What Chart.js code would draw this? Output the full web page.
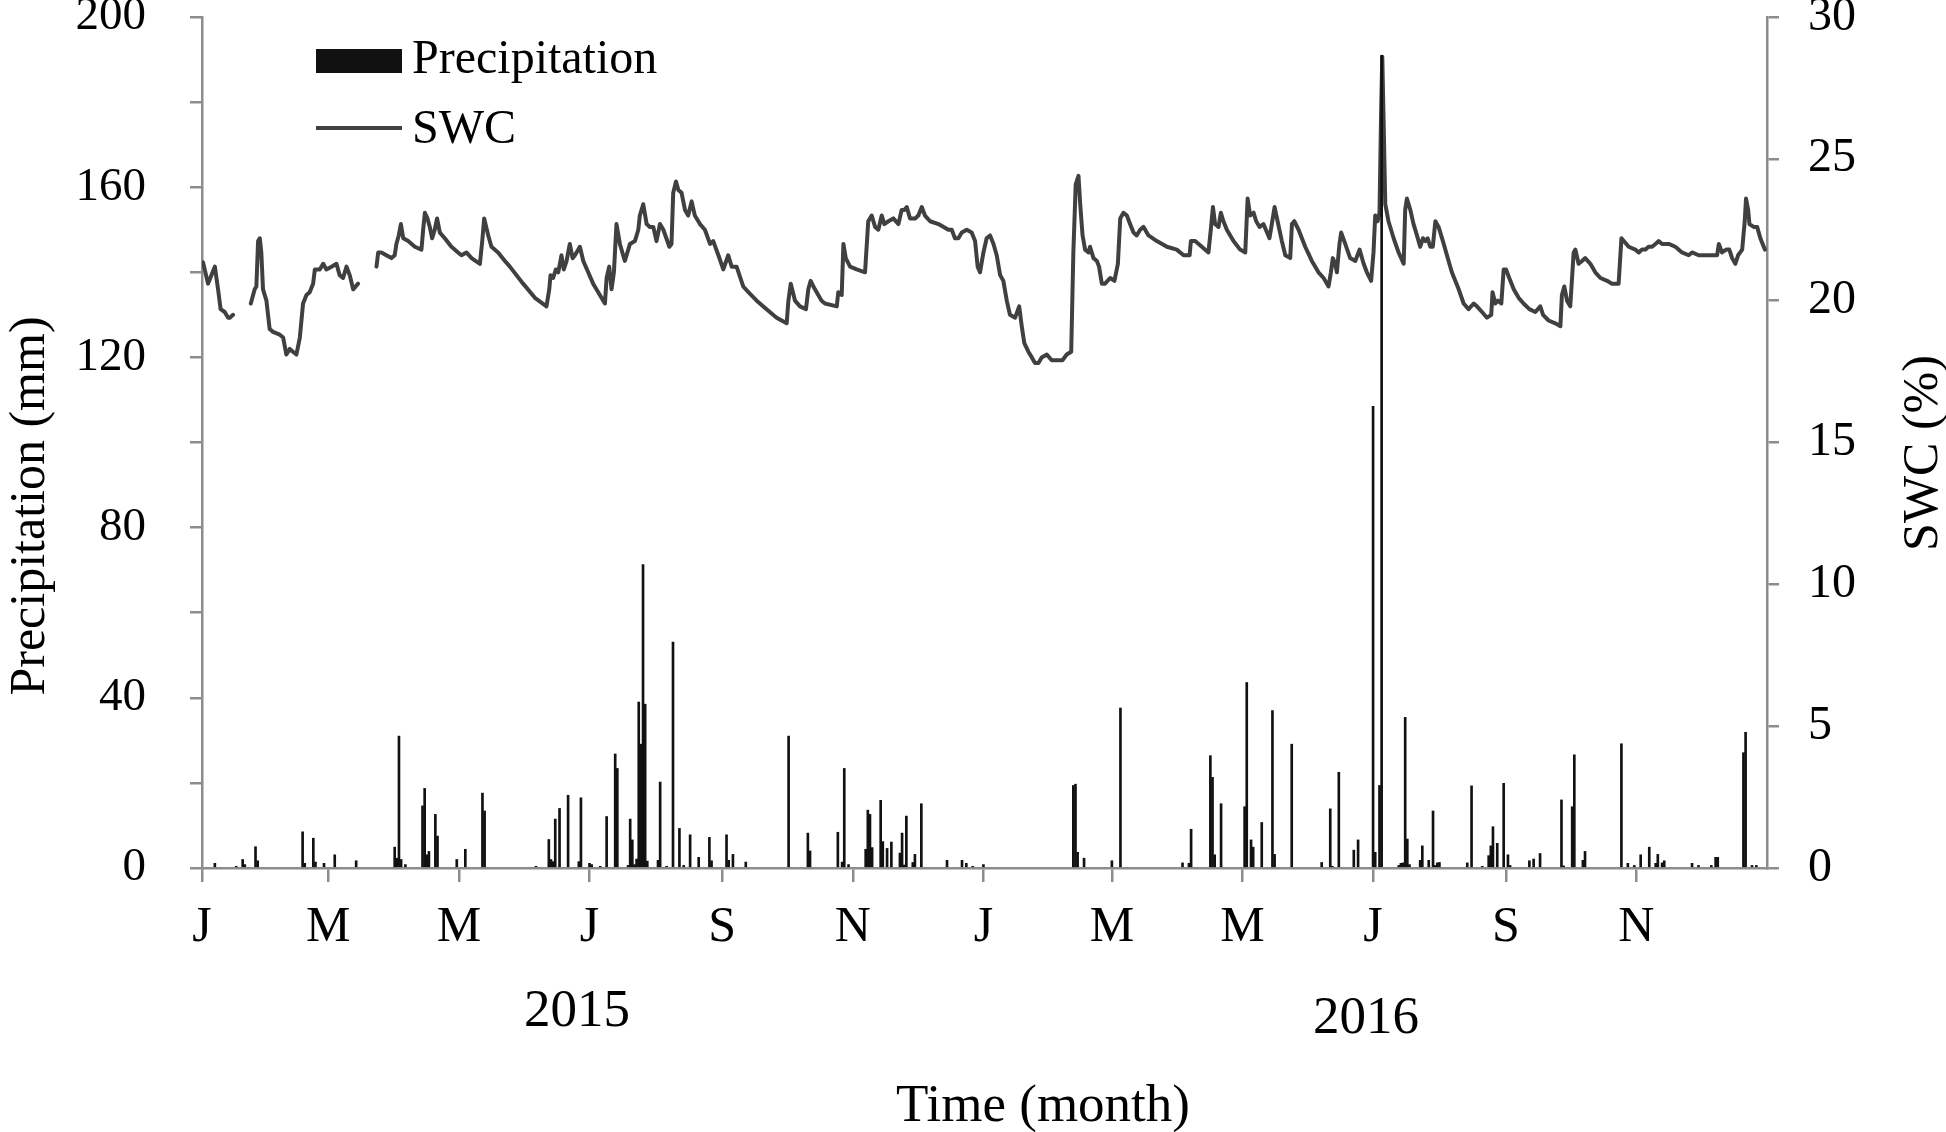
<!DOCTYPE html>
<html><head><meta charset="utf-8">
<script src="https://cdn.jsdelivr.net/npm/chart.js@4.4.1/dist/chart.umd.min.js"></script>
<style>html,body{margin:0;padding:0;background:#fff;}#wrap{width:1946px;height:1132px;}</style>
</head><body><div id="wrap"><canvas id="c" width="1946" height="1132"></canvas></div>
<script>
// x axis: day index from 1 Jan 2015
const monthTickDays = [0,59,120,181,243,304,365,425,486,547,609,670];
const monthTickLabels = ['J','M','M','J','S','N','J','M','M','J','S','N'];
const yearLabels = ['2015','2016'];
const seriesNames = ['Precipitation','SWC'];
const axisTitles = ['Precipitation (mm)','SWC (%)','Time (month)'];

const precipDays = [6,16,19,20,25,26,47,48,52,53,57,62,72,90,91,92,93,95,103,104,105,106,109,110,119,123,131,132,
156,162,163,164,165,167,171,176,177,181,182,186,189,193,194,199,200,201,202,203,204,205,206,207,208,213,214,217,220,223,225,228,232,237,238,245,246,248,254,274,283,284,
297,299,300,302,310,311,312,313,317,318,320,322,326,327,328,329,332,333,336,348,355,357,360,365,
407,408,409,412,425,429,458,461,462,471,472,473,476,487,488,490,491,495,500,501,509,523,527,528,531,538,540,547,548,550,551,559,560,561,562,563,564,569,570,573,575,576,577,578,
591,593,598,601,602,603,605,608,610,611,620,622,625,635,636,640,641,645,646,663,666,669,672,676,679,680,682,683,696,699,705,707,708,720,721,724,726];
const precipMm = [1.1,0.4,2.0,0.8,5.0,1.7,8.5,1.1,7.0,1.4,1.1,3.1,1.7,4.9,2.3,31.0,2.0,0.8,14.6,18.7,3.1,3.9,12.6,7.5,2.0,4.4,17.6,13.4,
0.4,6.7,2.0,1.5,11.5,14.0,17.1,1.5,16.5,1.1,0.8,0.4,12.1,26.8,23.4,0.6,11.5,6.6,0.8,2.1,39.0,29.1,71.3,38.5,1.6,1.8,20.2,0.4,53.1,9.3,0.6,7.8,2.5,7.2,1.7,7.8,1.8,3.2,1.4,31.0,8.2,4.0,
8.4,1.4,23.4,0.8,4.4,13.6,12.6,4.8,15.9,6.2,4.6,6.1,3.5,8.2,0.7,12.2,1.3,3.2,15.1,1.8,1.8,1.1,0.4,0.8,
19.4,19.7,3.7,2.3,1.7,37.6,1.2,1.1,9.1,26.4,21.3,3.1,15.1,14.4,43.6,6.6,4.9,10.7,37.0,3.2,29.1,1.3,13.9,0.4,22.5,4.2,6.6,108.5,3.7,19.4,191.0,0.6,1.1,1.2,35.4,6.8,0.8,1.8,5.2,1.8,13.4,0.6,1.2,1.3,
1.2,19.3,0.4,2.9,5.2,9.7,5.8,19.9,3.1,0.6,1.7,2.1,3.4,16.0,0.5,14.4,26.6,1.8,3.9,29.2,1.1,0.6,3.1,4.9,1.1,3.2,1.2,1.7,1.1,0.6,0.6,2.5,2.5,27.1,31.9,0.6,0.6];

// SWC readings (null = logger gap)
const swcDays = [0.5,2.8,4.4,6.0,7.5,8.7,10.6,12.2,13.0,14.5,
18.5,
22.8,24.6,25.4,26.2,27.0,27.7,28.5,30.1,31.6,33.2,36.3,37.9,39.4,41.0,42.5,44.1,45.7,47.2,48.8,50.3,51.9,52.7,55.0,56.6,58.1,60.5,62.8,64.3,65.9,67.5,69.0,70.6,72.9,
77,
81.5,82.3,83.8,86.1,88.5,90.0,90.8,91.9,92.9,94.0,96.3,99.4,102.5,103.3,104.1,105.3,106.4,107.5,108.7,109.8,111.1,113.4,116.5,119.6,121.2,123.5,125.9,129.8,130.9,131.8,133.7,135.2,138.3,141.5,
143.8,150.0,155.5,160.9,162.2,162.8,164.0,165.3,166.4,167.9,169.0,170.3,171.8,173.1,174.2,176.5,178.1,182.7,188.2,189.0,190.2,191.3,192.4,193.6,195.2,197.5,199.9,202.2,203.8,204.5,206.1,207.7,209.2,210.8,212.3,213.9,215.5,218.3,219.3,220.1,221.4,222.5,224.0,225.6,227.1,228.7,230.2,232.6,234.9,237.3,238.8,241.2,243.5,245.8,247.4,249.7,252.8,255.2,259.1,263.7,268.4,273.1,273.9,275.0,277.0,279.3,282.1,283.2,284.3,286.3,289.4,
291.0,296.5,297.2,298.8,299.6,300.7,302.7,305.8,309.7,311.2,312.8,314.4,315.9,317.5,318.7,320.6,322.9,325.3,326.8,328.1,329.2,330.7,333.1,334.6,336.2,337.7,340.1,344.0,348.6,350.2,351.7,353.3,354.9,357.2,359.5,361.1,362.3,363.4,365.0,366.5,368.1,369.7,371.2,372.8,374.3,375.9,377.4,379.8,381.7,382.9,384.1,386.0,387.6,389.1,390.7,392.2,394.6,396.9,399.3,401.9,403.9,406.0,407.0,408.1,409.4,410.2,411.3,412.5,414.1,414.8,416.4,418.0,419.0,420.3,421.8,424.2,426.2,427.8,428.9,430.4,432.0,433.5,435.1,436.6,
438.2,439.8,442.1,446.0,450.7,455.3,458.5,461.3,461.9,463.9,467.0,470.1,471.2,472.2,473.2,474.8,475.9,477.1,478.7,481.8,484.9,487.3,488.4,489.6,491.2,492.4,494.0,495.8,498.6,499.7,501.0,502.4,504.4,506.0,508.3,509.1,510.2,512.2,515.3,518.4,521.5,523.9,526.2,527.3,528.2,529.3,530.1,531.3,532.1,534.0,536.3,538.7,540.7,542.6,544.1,546.1,547.2,548.0,549.1,550.0,550.7,551.3,551.9,552.7,554.2,556.6,558.9,561.3,562.0,562.8,564.4,565.9,567.5,569.0,570.3,571.4,572.5,573.7,574.9,576.1,577.6,580.0,581.5,583.8,
585.4,587.0,589.3,591.6,594.0,595.5,597.9,600.2,602.2,602.8,604.1,605.3,606.9,608.0,609.1,610.6,612.7,615.0,617.3,620.0,622.8,625.1,626.4,629.0,632.1,634.5,635.2,636.3,637.6,639.1,640.7,641.5,643.0,644.6,646.1,648.5,650.8,653.2,656.3,658.6,661.7,663.0,664.1,666.4,669.5,671.1,672.6,674.2,675.7,677.3,678.9,680.4,682.0,685.1,688.2,691.3,694.4,696.0,699.1,703.8,707.7,708.5,710.0,711.9,713.4,714.7,716.2,717.5,719.4,720.6,721.2,722.2,722.8,724.8,726.4,727.9,730.0];
const swcPct = [21.35,20.6,20.9,21.2,20.4,19.7,19.6,19.4,19.4,19.5,
null,
19.9,20.4,20.5,22.1,22.2,21.7,20.4,20.0,19.0,18.9,18.8,18.7,18.1,18.3,18.2,18.1,18.7,19.9,20.2,20.3,20.6,21.1,21.1,21.3,21.1,21.2,21.3,20.9,20.8,21.2,20.9,20.4,20.6,
null,
21.2,21.7,21.7,21.6,21.5,21.6,22.0,22.3,22.7,22.2,22.1,21.9,21.8,22.5,23.1,22.9,22.6,22.2,22.5,22.9,22.4,22.2,21.9,21.7,21.6,21.7,21.5,21.3,22.1,22.9,22.3,21.9,21.7,21.4,
21.2,20.6,20.1,19.8,20.4,20.9,20.8,21.1,21.0,21.6,21.1,21.4,22.0,21.5,21.6,21.9,21.4,20.6,19.9,20.8,21.2,20.4,21.0,22.7,22.0,21.4,22.0,22.1,22.5,23.0,23.4,22.7,22.6,22.6,22.1,22.7,22.5,21.9,22.0,23.8,24.2,23.9,23.8,23.2,23.0,23.5,23.0,22.7,22.5,22.0,22.1,21.6,21.1,21.6,21.2,21.2,20.5,20.3,20.0,19.7,19.4,19.2,20.0,20.6,20.0,19.8,19.7,20.4,20.7,20.4,20.0,
19.9,19.8,20.3,20.2,22.0,21.5,21.2,21.1,21.0,22.8,23.0,22.6,22.5,23.0,22.7,22.8,22.9,22.7,23.2,23.2,23.3,22.9,22.9,23.0,23.3,23.0,22.8,22.7,22.5,22.5,22.2,22.2,22.4,22.5,22.4,22.1,21.2,21.0,21.7,22.2,22.3,22.0,21.6,20.9,20.7,20.0,19.5,19.4,19.8,19.1,18.5,18.2,18.0,17.8,17.8,18.0,18.1,17.9,17.9,17.9,18.1,18.2,21.7,24.1,24.4,23.4,22.3,21.8,21.7,21.9,21.5,21.4,21.2,20.6,20.6,20.8,20.7,21.3,22.9,23.1,23.0,22.7,22.4,22.3,
22.5,22.6,22.3,22.1,21.9,21.8,21.6,21.6,22.1,22.1,21.9,21.7,22.5,23.3,22.7,22.6,23.1,22.8,22.5,22.1,21.8,21.7,23.6,23.0,23.1,22.8,22.6,22.7,22.2,22.7,23.3,22.8,22.1,21.6,21.5,22.7,22.8,22.5,21.9,21.4,21.0,20.8,20.5,21.0,21.5,21.3,21.0,22.0,22.4,22.0,21.5,21.4,21.8,21.3,21.0,20.7,21.7,23.0,22.8,23.1,26.4,28.6,26.4,23.4,22.8,22.2,21.7,21.3,23.2,23.6,23.2,22.7,22.3,21.9,22.2,22.1,22.2,21.9,21.9,22.8,22.6,22.0,21.6,21.0,
20.7,20.4,19.9,19.7,19.9,19.8,19.6,19.4,19.5,20.3,19.9,20.0,19.9,21.1,21.1,20.8,20.4,20.1,19.9,19.7,19.6,19.8,19.5,19.3,19.2,19.1,20.2,20.5,20.0,19.8,21.7,21.8,21.3,21.4,21.5,21.3,21.0,20.8,20.7,20.6,20.6,22.2,22.1,21.9,21.8,21.7,21.8,21.8,21.9,21.9,22.0,22.1,22.0,22.0,21.9,21.7,21.6,21.7,21.6,21.6,21.6,22.0,21.7,21.8,21.8,21.5,21.3,21.6,21.8,22.8,23.6,23.2,22.7,22.6,22.6,22.2,21.8];

const FONT = "'Liberation Serif','Times New Roman',serif";
const AXIS_GRAY = '#8c8c8c';
const BAR_COLOR = '#111111';
const LINE_COLOR = '#404040';

const precipData = precipDays.map((d, i) => ({x: d, y: precipMm[i]}));
const swcData = swcDays.map((d, i) => ({x: d, y: swcPct[i]}));

const decorPlugin = {
  id: 'decor',
  afterDraw(chart) {
    const c = chart.ctx;
    c.save();
    // legend
    c.fillStyle = BAR_COLOR;
    c.fillRect(316, 49, 86, 24);
    c.strokeStyle = LINE_COLOR; c.lineWidth = 4;
    c.beginPath(); c.moveTo(316, 128); c.lineTo(402, 128); c.stroke();
    c.fillStyle = '#000';
    c.textAlign = 'left'; c.textBaseline = 'alphabetic';
    c.font = '48px ' + FONT;
    c.fillText(seriesNames[0], 412, 73);
    c.fillText(seriesNames[1], 412, 143);
    // year labels
    c.textAlign = 'center';
    c.font = '53px ' + FONT;
    c.fillText(yearLabels[0], 577, 1026);
    c.fillText(yearLabels[1], 1366, 1033);
    // x title
    c.fillText(axisTitles[2], 1043, 1121);
    // left title
    c.font = '50px ' + FONT;
    c.save(); c.translate(44, 506); c.rotate(-Math.PI / 2); c.fillText(axisTitles[0], 0, 0); c.restore();
    // right title
    c.save(); c.translate(1937, 453); c.rotate(-Math.PI / 2); c.fillText(axisTitles[1], 0, 0); c.restore();
    c.restore();
  }
};

new Chart(document.getElementById('c'), {
  type: 'bar',
  data: {
    datasets: [
      {type: 'bar', label: seriesNames[0], data: precipData, backgroundColor: BAR_COLOR, borderWidth: 0,
       barThickness: 2, yAxisID: 'y', order: 0},
      {type: 'line', label: seriesNames[1], data: swcData, borderColor: LINE_COLOR, borderWidth: 4,
       pointRadius: 0, tension: 0, spanGaps: false, fill: false, yAxisID: 'y1', order: 1,
       borderJoinStyle: 'round', borderCapStyle: 'round'}
    ]
  },
  options: {
    responsive: false, animation: false, indexAxis: 'x',
    layout: {padding: {top: 17, left: 0, right: 0, bottom: 0}},
    plugins: {legend: {display: false}, tooltip: {enabled: false}},
    scales: {
      x: {
        type: 'linear', min: 0, max: 731, offset: false, position: 'bottom',
        afterBuildTicks: s => { s.ticks = monthTickDays.map(v => ({value: v})); },
        afterFit: s => { s.height = 1132 - 868; s.paddingLeft = 0; s.paddingRight = 0; },
        ticks: {autoSkip: false, maxRotation: 0, minRotation: 0, color: '#000', padding: 16,
                font: {family: FONT, size: 50}, callback: (v, i) => monthTickLabels[i]},
        grid: {drawOnChartArea: false, drawTicks: true, tickLength: 14, color: AXIS_GRAY, lineWidth: 2.5, offset: false},
        border: {display: true, color: AXIS_GRAY, width: 2.5}
      },
      y: {
        position: 'left', min: 0, max: 200,
        afterFit: s => { s.width = 202; s.paddingTop = 0; s.paddingBottom = 0; },
        ticks: {stepSize: 20, color: '#000', padding: 44, font: {family: FONT, size: 47},
                callback: v => (v % 40 === 0 ? String(v) : '')},
        grid: {drawOnChartArea: false, drawTicks: true, tickLength: 12, color: AXIS_GRAY, lineWidth: 2.5},
        border: {display: true, color: AXIS_GRAY, width: 2.5}
      },
      y1: {
        position: 'right', min: 0, max: 30,
        afterFit: s => { s.width = 1946 - 1767; s.paddingTop = 0; s.paddingBottom = 0; },
        ticks: {stepSize: 5, color: '#000', padding: 29, font: {family: FONT, size: 48}},
        grid: {drawOnChartArea: false, drawTicks: true, tickLength: 12, color: AXIS_GRAY, lineWidth: 2.5},
        border: {display: true, color: AXIS_GRAY, width: 2.5}
      }
    }
  },
  plugins: [decorPlugin]
});
</script>
</body></html>
